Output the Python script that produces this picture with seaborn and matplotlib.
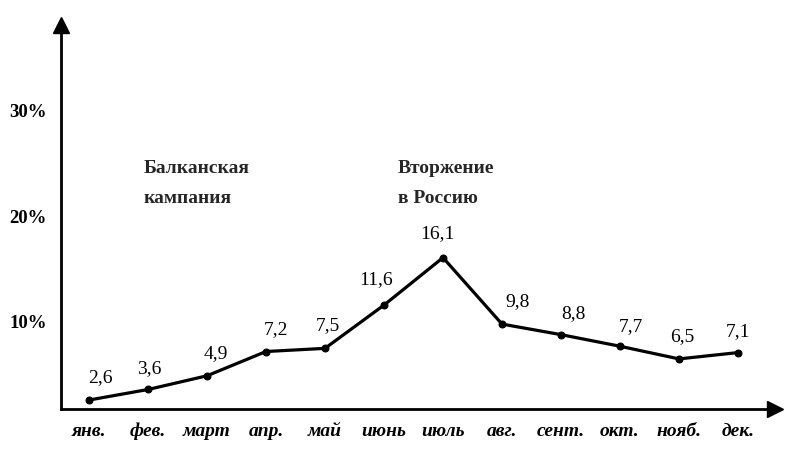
import matplotlib
matplotlib.use("Agg")
import matplotlib.pyplot as plt
import seaborn as sns
import pandas as pd

# --- data ---
months = ["янв.", "фев.", "март", "апр.", "май", "июнь",
          "июль", "авг.", "сент.", "окт.", "нояб.", "дек."]
values = [2.6, 3.6, 4.9, 7.2, 7.5, 11.6, 16.1, 9.8, 8.8, 7.7, 6.5, 7.1]
value_labels = ["2,6", "3,6", "4,9", "7,2", "7,5", "11,6",
                "16,1", "9,8", "8,8", "7,7", "6,5", "7,1"]
y_ticks = [10, 20, 30]
y_tick_labels = ["10%", "20%", "30%"]
notes = ["Балканская\nкампания", "Вторжение\nв Россию"]

# label offsets in points (style only)
label_offsets = [(8, 10), (1, 9), (6, 10), (7, 10), (2, 10), (-6, 12),
                 (-4, 11), (11, 10), (9, 9), (8, 8), (2, 10), (0, 9)]

df = pd.DataFrame({"x": range(len(months)), "y": values})

sns.set_style("white")
plt.rcParams["font.family"] = ["Liberation Serif", "DejaVu Serif"]

fig = plt.figure(figsize=(7.9, 4.65), dpi=100)
ax = fig.add_axes([0.0772, 0.1204, 0.9038, 0.8258])

sns.lineplot(data=df, x="x", y="y", ax=ax, color="black", linewidth=2.3,
             marker="o", markersize=5, markeredgecolor="black")

ax.set_xlim(-0.4746, 11.627)
ax.set_ylim(1.75, 38.15)

for s in ["top", "right"]:
    ax.spines[s].set_visible(False)
for s in ["left", "bottom"]:
    ax.spines[s].set_color("black")
    ax.spines[s].set_linewidth(2.0)

# arrow heads
ax.plot(1, 0, ">", color="black", markersize=11, transform=ax.transAxes, clip_on=False)
ax.plot(0, 1, "^", color="black", markersize=11, transform=ax.transAxes, clip_on=False)

ax.set_xticks(range(len(months)))
ax.set_xticklabels(months, fontstyle="italic", fontweight="bold", fontsize=14)
ax.set_yticks(y_ticks)
ax.set_yticklabels(y_tick_labels, fontweight="bold", fontsize=13.5)
ax.tick_params(axis="x", direction="in", length=6, width=1.5, pad=10, colors="black")
ax.tick_params(axis="y", direction="in", length=7, width=1.5, pad=10, colors="black")
ax.set_xlabel("")
ax.set_ylabel("")

for i, (v, lab) in enumerate(zip(values, value_labels)):
    ax.annotate(lab, xy=(i, v), xytext=label_offsets[i], textcoords="offset points",
                ha="center", va="bottom", fontsize=14, color="black")

ax.text(0.92, 23.1, notes[0], ha="left", va="center", fontsize=14,
        fontweight="bold", linespacing=2.0)
ax.text(5.23, 23.1, notes[1], ha="left", va="center", fontsize=14,
        fontweight="bold", linespacing=2.0)

fig.savefig("out.png", dpi=100, facecolor="white")
